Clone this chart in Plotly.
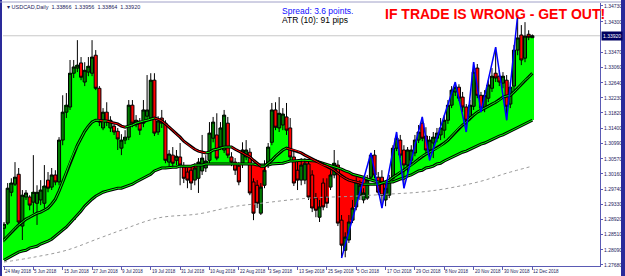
import plotly.graph_objects as go

# ---------------- data (USDCAD daily) ----------------
date_labels = ['24 May 2018', '5 Jun 2018', '15 Jun 2018', '27 Jun 2018', '9 Jul 2018',
               '19 Jul 2018', '31 Jul 2018', '10 Aug 2018', '22 Aug 2018', '3 Sep 2018',
               '13 Sep 2018', '25 Sep 2018', '5 Oct 2018', '17 Oct 2018', '29 Oct 2018',
               '8 Nov 2018', '20 Nov 2018', '30 Nov 2018', '12 Dec 2018']
date_label_bars = list(range(0, 145, 8))

price_ticks = [1.34730, 1.34300, 1.33470, 1.33060, 1.32640, 1.32230, 1.31820, 1.31400,
               1.30990, 1.30570, 1.30160, 1.29740, 1.29330, 1.28920, 1.28510, 1.28090, 1.27680]
bid_price = 1.33920

open_ = [1.2868, 1.2882, 1.2966, 1.2988, 1.3015, 1.2874, 1.2953, 1.2953, 1.2939, 1.2936,
         1.2945, 1.2936, 1.2999, 1.2980, 1.3013, 1.2994, 1.3108, 1.3184, 1.3198, 1.3290,
         1.3304, 1.3318, 1.3266, 1.3293, 1.3290, 1.3339, 1.3249, 1.3141, 1.3184, 1.3141,
         1.3146, 1.3132, 1.3086, 1.3108, 1.3116, 1.3203, 1.3154, 1.3160, 1.3154, 1.3173,
         1.3168, 1.3271, 1.3130, 1.3168, 1.3154, 1.3048, 1.3067, 1.3053, 1.3062, 1.3037,
         1.3021, 1.3026, 1.2999, 1.3004, 1.3024, 1.3032, 1.3053, 1.3113, 1.3122, 1.3089,
         1.3081, 1.3154, 1.3062, 1.3048, 1.3037, 1.3045, 1.3062, 1.3075, 1.2994, 1.2985,
         1.2909, 1.2985, 1.3040, 1.3102, 1.3190, 1.3141, 1.3149, 1.3171, 1.3141, 1.3062,
         1.3026, 1.2999, 1.2999, 1.3043, 1.3013, 1.2950, 1.2898, 1.2991, 1.2953, 1.2980,
         1.3013, 1.3040, 1.2890, 1.2808, 1.2836, 1.2890, 1.2926, 1.2958, 1.2945, 1.2950,
         1.3007, 1.3067, 1.3007, 1.3007, 1.2945, 1.2958, 1.3004, 1.3086, 1.3108, 1.3081,
         1.3040, 1.3053, 1.3073, 1.3108, 1.3154, 1.3119, 1.3081, 1.3100, 1.3113, 1.3122,
         1.3135, 1.3162, 1.3203, 1.3239, 1.3252, 1.3225, 1.3198, 1.3171, 1.3200, 1.3304,
         1.3230, 1.3195, 1.3222, 1.3249, 1.3290, 1.3282, 1.3263, 1.3271, 1.3206, 1.3255,
         1.3353, 1.3394, 1.3331, 1.3396, 1.33866]
high = [1.2885, 1.2991, 1.3004, 1.3048, 1.3032, 1.2972, 1.2972, 1.2958, 1.3067, 1.2985,
        1.2999, 1.3040, 1.3021, 1.3032, 1.3026, 1.3116, 1.3230, 1.3236, 1.3326, 1.3326,
        1.3380, 1.3334, 1.3320, 1.3334, 1.3380, 1.3353, 1.3255, 1.3195, 1.3211, 1.3173,
        1.3157, 1.3141, 1.3124, 1.3135, 1.3217, 1.3217, 1.3176, 1.3168, 1.3217, 1.3285,
        1.3290, 1.3290, 1.3173, 1.3190, 1.3162, 1.3081, 1.3089, 1.3081, 1.3100, 1.3048,
        1.3032, 1.3037, 1.3045, 1.3059, 1.3122, 1.3067, 1.3157, 1.3171, 1.3181, 1.3157,
        1.3190, 1.3171, 1.3075, 1.3059, 1.3048, 1.3102, 1.3108, 1.3086, 1.3004, 1.2999,
        1.2991, 1.3053, 1.3100, 1.3209, 1.3211, 1.3225, 1.3195, 1.3209, 1.3168, 1.3081,
        1.3053, 1.3059, 1.3059, 1.3053, 1.3026, 1.2964, 1.2945, 1.3004, 1.3004, 1.3026,
        1.3081, 1.3053, 1.2904, 1.2857, 1.2904, 1.2945, 1.3007, 1.2999, 1.2977, 1.3013,
        1.3073, 1.3081, 1.3021, 1.3026, 1.2991, 1.3013, 1.3094, 1.3130, 1.3122, 1.3094,
        1.3089, 1.3094, 1.3122, 1.3149, 1.3171, 1.3143, 1.3119, 1.3130, 1.3141, 1.3168,
        1.3176, 1.3217, 1.3255, 1.3266, 1.3260, 1.3239, 1.3206, 1.3217, 1.3320, 1.3315,
        1.3239, 1.3244, 1.3271, 1.3304, 1.3361, 1.3298, 1.3293, 1.3285, 1.3266, 1.3367,
        1.3448, 1.3421, 1.3429, 1.3407, 1.33956]
low = [1.2830, 1.2877, 1.2955, 1.2983, 1.2877, 1.2836, 1.2945, 1.2917, 1.2909, 1.2877,
       1.2931, 1.2923, 1.2966, 1.2972, 1.2985, 1.2985, 1.3094, 1.3168, 1.3190, 1.3277,
       1.3293, 1.3271, 1.3255, 1.3282, 1.3282, 1.3244, 1.3146, 1.3135, 1.3146, 1.3130,
       1.3122, 1.3081, 1.3067, 1.3097, 1.3108, 1.3143, 1.3143, 1.3122, 1.3143, 1.3162,
       1.3160, 1.3119, 1.3122, 1.3141, 1.3045, 1.3037, 1.3032, 1.3040, 1.2985, 1.2991,
       1.2977, 1.2972, 1.2985, 1.2964, 1.3013, 1.3021, 1.3045, 1.3102, 1.3053, 1.3081,
       1.3073, 1.3059, 1.3037, 1.3013, 1.2985, 1.3032, 1.3053, 1.2958, 1.2890, 1.2923,
       1.2904, 1.2977, 1.3032, 1.3094, 1.3135, 1.3130, 1.3135, 1.3122, 1.3053, 1.2983,
       1.2972, 1.2985, 1.2988, 1.2945, 1.2912, 1.2898, 1.2885, 1.2917, 1.2923, 1.2972,
       1.3004, 1.2874, 1.2787, 1.2789, 1.2828, 1.2882, 1.2917, 1.2945, 1.2936, 1.2945,
       1.2999, 1.3004, 1.2958, 1.2923, 1.2928, 1.2950, 1.2996, 1.3078, 1.3059, 1.2977,
       1.3013, 1.3040, 1.3064, 1.3100, 1.3105, 1.3073, 1.3053, 1.3059, 1.3102, 1.3108,
       1.3113, 1.3152, 1.3195, 1.3228, 1.3214, 1.3184, 1.3130, 1.3162, 1.3190, 1.3222,
       1.3184, 1.3184, 1.3211, 1.3239, 1.3266, 1.3255, 1.3249, 1.3162, 1.3195, 1.3244,
       1.3339, 1.3312, 1.3320, 1.3380, 1.33864]
close = [1.2879, 1.2977, 1.2991, 1.3007, 1.2885, 1.2958, 1.2964, 1.2931, 1.2966, 1.2966,
         1.2972, 1.2983, 1.2977, 1.3013, 1.2994, 1.3108, 1.3184, 1.3203, 1.3290, 1.3307,
         1.3312, 1.3279, 1.3298, 1.3309, 1.3334, 1.3249, 1.3157, 1.3184, 1.3157, 1.3162,
         1.3130, 1.3111, 1.3108, 1.3116, 1.3203, 1.3154, 1.3162, 1.3135, 1.3190, 1.3190,
         1.3271, 1.3127, 1.3160, 1.3154, 1.3053, 1.3070, 1.3045, 1.3064, 1.3040, 1.3004,
         1.2999, 1.2991, 1.3032, 1.3048, 1.3059, 1.3051, 1.3127, 1.3157, 1.3059, 1.3141,
         1.3176, 1.3067, 1.3048, 1.3026, 1.2994, 1.3081, 1.3081, 1.2964, 1.2909, 1.2936,
         1.2980, 1.3026, 1.3089, 1.3190, 1.3143, 1.3181, 1.3179, 1.3135, 1.3062, 1.2991,
         1.2999, 1.3040, 1.3045, 1.2953, 1.2923, 1.2917, 1.2926, 1.2926, 1.2936, 1.3013,
         1.3045, 1.2882, 1.2822, 1.2844, 1.2885, 1.2923, 1.2994, 1.2985, 1.2964, 1.2999,
         1.3067, 1.3013, 1.2966, 1.2958, 1.2977, 1.2999, 1.3086, 1.3113, 1.3067, 1.3040,
         1.3081, 1.3081, 1.3108, 1.3130, 1.3113, 1.3081, 1.3108, 1.3116, 1.3127, 1.3141,
         1.3162, 1.3203, 1.3244, 1.3252, 1.3222, 1.3198, 1.3162, 1.3203, 1.3293, 1.3230,
         1.3195, 1.3230, 1.3258, 1.3282, 1.3277, 1.3266, 1.3282, 1.3200, 1.3252, 1.3353,
         1.3386, 1.3326, 1.3391, 1.3388, 1.33920]
ma_medium = [1.2836, 1.2847, 1.2857, 1.2868, 1.2877, 1.2885, 1.2893, 1.2898, 1.2904, 1.2909,
             1.2912, 1.2917, 1.2923, 1.2934, 1.2947, 1.2969, 1.2994, 1.3021, 1.3048, 1.3073,
             1.3094, 1.3113, 1.3132, 1.3146, 1.3157, 1.3162, 1.3162, 1.3160, 1.3160, 1.3157,
             1.3154, 1.3152, 1.3146, 1.3143, 1.3146, 1.3149, 1.3154, 1.3157, 1.3160, 1.3162,
             1.3165, 1.3168, 1.3165, 1.3160, 1.3152, 1.3143, 1.3135, 1.3124, 1.3116, 1.3105,
             1.3097, 1.3089, 1.3083, 1.3078, 1.3075, 1.3073, 1.3075, 1.3081, 1.3083, 1.3086,
             1.3089, 1.3089, 1.3089, 1.3083, 1.3078, 1.3073, 1.3067, 1.3062, 1.3053, 1.3045,
             1.3037, 1.3037, 1.3045, 1.3053, 1.3064, 1.3073, 1.3081, 1.3086, 1.3083, 1.3081,
             1.3078, 1.3073, 1.3067, 1.3062, 1.3056, 1.3051, 1.3045, 1.3040, 1.3037, 1.3032,
             1.3026, 1.3018, 1.3010, 1.3004, 1.2999, 1.2996, 1.2994, 1.2991, 1.2988, 1.2988,
             1.2988, 1.2988, 1.2988, 1.2991, 1.2994, 1.2999, 1.3007, 1.3013, 1.3021, 1.3026,
             1.3034, 1.3040, 1.3048, 1.3056, 1.3064, 1.3070, 1.3075, 1.3081, 1.3086, 1.3092,
             1.3100, 1.3108, 1.3119, 1.3130, 1.3141, 1.3149, 1.3157, 1.3168, 1.3176, 1.3184,
             1.3190, 1.3195, 1.3200, 1.3206, 1.3211, 1.3217, 1.3225, 1.3228, 1.3230, 1.3239,
             1.3249, 1.3260, 1.3271, 1.3279, 1.3290]
ma_slow = [1.2781, 1.2787, 1.2792, 1.2798, 1.2803, 1.2806, 1.2808, 1.2814, 1.2817, 1.2819,
           1.2825, 1.2828, 1.2833, 1.2838, 1.2847, 1.2855, 1.2863, 1.2871, 1.2882, 1.2890,
           1.2901, 1.2915, 1.2928, 1.2939, 1.2947, 1.2955, 1.2961, 1.2966, 1.2969, 1.2972,
           1.2975, 1.2977, 1.2977, 1.2980, 1.2985, 1.2988, 1.2994, 1.2999, 1.3004, 1.3010,
           1.3015, 1.3024, 1.3029, 1.3032, 1.3032, 1.3034, 1.3034, 1.3034, 1.3037, 1.3037,
           1.3037, 1.3037, 1.3040, 1.3040, 1.3040, 1.3043, 1.3043, 1.3043, 1.3045, 1.3045,
           1.3045, 1.3045, 1.3045, 1.3045, 1.3045, 1.3043, 1.3043, 1.3043, 1.3043, 1.3040,
           1.3040, 1.3040, 1.3040, 1.3043, 1.3043, 1.3045, 1.3045, 1.3048, 1.3051, 1.3051,
           1.3053, 1.3053, 1.3053, 1.3053, 1.3051, 1.3051, 1.3048, 1.3045, 1.3043, 1.3040,
           1.3037, 1.3032, 1.3029, 1.3024, 1.3021, 1.3015, 1.3013, 1.3010, 1.3007, 1.3002,
           1.2999, 1.2996, 1.2994, 1.2991, 1.2991, 1.2994, 1.2994, 1.2999, 1.3002, 1.3004,
           1.3010, 1.3013, 1.3018, 1.3024, 1.3026, 1.3032, 1.3034, 1.3037, 1.3043, 1.3045,
           1.3051, 1.3056, 1.3059, 1.3064, 1.3070, 1.3075, 1.3078, 1.3083, 1.3086, 1.3092,
           1.3097, 1.3100, 1.3105, 1.3108, 1.3113, 1.3119, 1.3122, 1.3127, 1.3132, 1.3138,
           1.3141, 1.3146, 1.3152, 1.3157, 1.3162]
ma_long_bars = [0, 8, 17, 26, 32, 42, 53, 62, 70, 83, 95, 105, 113, 120, 130, 137, 144]
ma_long = [1.2776, 1.2789, 1.2808, 1.2841, 1.2863, 1.2896, 1.2907, 1.2926, 1.2936, 1.2950,
           1.2955, 1.2961, 1.2966, 1.2975, 1.2996, 1.3018, 1.3037]
zigzag_bars = [92, 100, 103, 107, 109, 114, 116, 123, 126, 128, 130, 134, 137, 140]
zigzag = [1.2787, 1.3073, 1.2923, 1.3130, 1.2977, 1.3171, 1.3053, 1.3266, 1.3130, 1.3320,
          1.3184, 1.3361, 1.3162, 1.3448]

n = len(close)
assert len(open_) == n and len(high) == n and len(low) == n
assert len(ma_medium) == n and len(ma_slow) == n, (len(ma_medium), len(ma_slow), n)
bars = list(range(n))

# ---------------- layout geometry ----------------
W, H = 625, 276
ML, MR, MT, MB = 3, 25, 3, 10
PW, PH = W - ML - MR, H - MT - MB


def px(x):
    return (x - ML) / PW


def py(y):
    return (H - MB - y) / PH


fig = go.Figure()

# filled band between close and slow MA
band = [c - s for c, s in zip(close, ma_slow)]
band_col = ['#00ff00' if b >= 0 else '#ff0000' for b in band]
fig.add_trace(go.Bar(x=bars, y=band, base=ma_slow, width=1.04,
                     marker=dict(color=band_col, line=dict(width=0)),
                     hoverinfo='skip'))

# long MA dotted
fig.add_trace(go.Scatter(x=ma_long_bars, y=ma_long, mode='lines',
                         line=dict(color='#9a9a9a', width=1, dash='dot', shape='spline'),
                         hoverinfo='skip'))

# slow MA: black outline + green core
fig.add_trace(go.Scatter(x=bars, y=ma_slow, mode='lines',
                         line=dict(color='#000000', width=3), hoverinfo='skip'))
fig.add_trace(go.Scatter(x=bars, y=ma_slow, mode='lines',
                         line=dict(color='#00ff00', width=1), hoverinfo='skip'))

# medium MA: black outline + core colored by slope
fig.add_trace(go.Scatter(x=bars, y=ma_medium, mode='lines',
                         line=dict(color='#000000', width=3), hoverinfo='skip'))
for col, rising in (('#00ff00', True), ('#ff0000', False)):
    xs, ys = [], []
    for i in range(1, n):
        up = ma_medium[i] >= ma_medium[i - 1]
        if up == rising:
            xs += [i - 1, i, None]
            ys += [ma_medium[i - 1], ma_medium[i], None]
    fig.add_trace(go.Scatter(x=xs, y=ys, mode='lines',
                             line=dict(color=col, width=1), hoverinfo='skip'))

# candles
fig.add_trace(go.Candlestick(
    x=bars, open=open_, high=high, low=low, close=close,
    increasing=dict(fillcolor='#007a00', line=dict(color='#000000', width=1)),
    decreasing=dict(fillcolor='#ff0000', line=dict(color='#000000', width=1)),
    whiskerwidth=0, hoverinfo='skip'))

# zigzag
fig.add_trace(go.Scatter(x=zigzag_bars, y=zigzag, mode='lines',
                         line=dict(color='#0000ff', width=1.5), hoverinfo='skip'))

x_lo = (ML - 4) / 3.669
x_hi = (ML + PW - 4) / 3.669
y_top = 1.34893 - 0.0002722 * MT
y_bot = 1.34893 - 0.0002722 * (H - MB)

axis_col = '#5a5ab4'
text_col = '#1c1c5c'

fig.update_layout(
    width=W, height=H,
    margin=dict(l=ML, r=MR, t=MT, b=MB, pad=0),
    paper_bgcolor='#ffffff', plot_bgcolor='#ffffff',
    showlegend=False, hovermode=False, bargap=0,
    boxgap=0.12, boxgroupgap=0.05,
    xaxis=dict(range=[x_lo, x_hi], showgrid=False, zeroline=False,
               showline=True, linecolor=axis_col, linewidth=1,
               tickvals=date_label_bars, ticks='outside', ticklen=3,
               tickcolor=axis_col, showticklabels=False,
               rangeslider=dict(visible=False), fixedrange=True),
    yaxis=dict(range=[y_bot, y_top], side='right', showgrid=False, zeroline=False,
               showline=True, linecolor=axis_col, linewidth=1,
               tickvals=price_ticks, ticktext=['%.5f' % v for v in price_ticks],
               ticks='outside', ticklen=2, tickcolor=axis_col,
               tickfont=dict(family='Liberation Sans, Arial', size=5, color=text_col),
               fixedrange=True),
)

shapes = [
    # bid line
    dict(type='line', xref='paper', yref='y', x0=0, x1=1, y0=bid_price, y1=bid_price,
         line=dict(color='#c8c8c8', width=1), layer='below'),
    # window frame
    dict(type='rect', xref='paper', yref='paper', x0=px(0), x1=px(2), y0=py(H), y1=py(0),
         fillcolor='#2a2a9a', line=dict(width=0)),
    dict(type='rect', xref='paper', yref='paper', x0=px(621), x1=px(625), y0=py(H), y1=py(0),
         fillcolor='#2a2a9a', line=dict(width=0)),
    dict(type='line', xref='paper', yref='paper', x0=px(0), x1=px(621), y0=py(2), y1=py(2),
         line=dict(color='#a0a0c8', width=1)),
]
fig.update_layout(shapes=shapes)

ann = []
for b, lab in zip(date_label_bars, date_labels):
    ann.append(dict(x=b, xref='x', y=0, yref='paper', text=lab, showarrow=False,
                    xanchor='left', yanchor='top', xshift=-1, yshift=-1,
                    font=dict(family='Liberation Sans, Arial', size=4.5, color=text_col)))
ann.append(dict(x=1, xref='paper', y=bid_price, yref='y', text='%.5f' % bid_price,
                showarrow=False, xanchor='left', yanchor='middle', xshift=1,
                bgcolor='#000060', borderpad=1,
                font=dict(family='Liberation Sans, Arial', size=5, color='#ffffff')))
ann.append(dict(x=px(5), xref='paper', y=py(7), yref='paper',
                text='\u25be USDCAD,Daily  1.33866  1.33956  1.33864  1.33920',
                showarrow=False, xanchor='left', yanchor='middle',
                font=dict(family='Liberation Sans, Arial', size=5.5, color=text_col)))
ann.append(dict(x=px(280), xref='paper', y=py(11), yref='paper', text='Spread: 3.6 points.',
                showarrow=False, xanchor='left', yanchor='middle',
                font=dict(family='Liberation Sans, Arial', size=8.5, color='#1010ff')))
ann.append(dict(x=px(280), xref='paper', y=py(20), yref='paper', text='ATR (10): 91 pips',
                showarrow=False, xanchor='left', yanchor='middle',
                font=dict(family='Liberation Sans, Arial', size=8.5, color='#000000')))
ann.append(dict(x=px(383), xref='paper', y=py(14), yref='paper',
                text='<b>IF TRADE IS WRONG - GET OUT!</b>',
                showarrow=False, xanchor='left', yanchor='middle',
                font=dict(family='Liberation Sans, Arial', size=14, color='#ff0000')))
fig.update_layout(annotations=ann)

fig.write_html('out.html', config={'displayModeBar': False})
